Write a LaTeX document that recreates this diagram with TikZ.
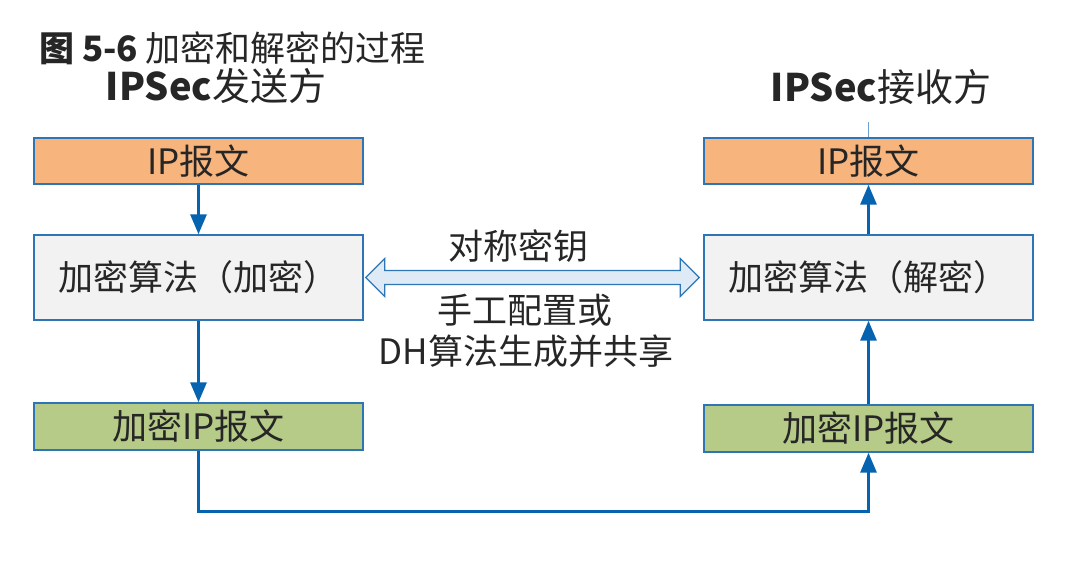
\documentclass[tikz,border=0pt]{standalone}
\usepackage{fontspec}
\setmainfont{Noto Sans CJK SC}
\usepackage{tikz}
\usetikzlibrary{arrows.meta,calc}
\definecolor{pktorange}{HTML}{F7B47C}
\definecolor{alggray}{HTML}{F2F2F2}
\definecolor{encgreen}{HTML}{B6CB87}
\definecolor{boxblue}{HTML}{2E75B6}
\definecolor{flowblue}{HTML}{0563B0}
\definecolor{keyfill}{HTML}{DEEBF7}
\definecolor{txt}{HTML}{262626}

\begin{document}
\begin{tikzpicture}[x=0.5pt, y=-0.5pt, text=txt,
  box/.style={draw=boxblue, line width=0.7pt, inner sep=0pt, minimum width=164.5pt, font=\fontsize{17.5}{19}\selectfont},
  ipbox/.style={box, fill=pktorange, minimum height=23pt},
  algbox/.style={box, fill=alggray, minimum height=42.5pt},
  encbox/.style={box, fill=encgreen, minimum height=23.5pt},
  flow/.style={flowblue, line width=1.5pt, -{Triangle[width=8pt,length=10pt]}},
  keyarrow/.style={draw=boxblue, fill=keyfill, line width=0.6pt, line join=miter},
  lbl/.style={font=\fontsize{17.5}{19}\selectfont}]

\useasboundingbox (0,0) rectangle (1067,573);

%title and headers
\node[anchor=west, font=\fontsize{17.5}{20}\selectfont] (title) at (32,48) {\textbf{图 5-6} 加密和解密的过程};
\node[font=\fontsize{19}{22}\selectfont] (sender) at (216,86) {\textbf{IPSec}发送方};
\node[font=\fontsize{19}{22}\selectfont] (receiver) at (881,87) {\textbf{IPSec}接收方};

%sender side
\node[ipbox] (sndip) at (198.5,161) {IP报文};
\node[algbox] (encalg) at (198.5,277.5) {加密算法（加密）};
\node[encbox] (sndenc) at (198.5,426.5) {加密IP报文};
\draw[flow] (sndip) -- (encalg);
\draw[flow] (encalg) -- (sndenc);

%receiver side
\node[ipbox] (rcvip) at (868.5,161) {IP报文};
\node[algbox] (decalg) at (868.5,277.5) {加密算法（解密）};
\node[encbox] (rcvenc) at (868.5,428.5) {加密IP报文};
\draw[flow] (rcvenc) -- (decalg);
\draw[flow] (decalg) -- (rcvip);
\draw[boxblue!70, line width=0.6pt] (rcvip.north) -- ++(0,-15);

%transfer
\draw[flow] (sndenc.south) -- ++(0,61) -| (rcvenc.south);

%shared key
\coordinate (kl) at ([xshift=1pt]encalg.east);
\coordinate (kr) at ([xshift=-2pt]decalg.west);
\draw[keyarrow] (kl) -- ($(kl)+(19,-19)$) -- ($(kl)+(19,-7)$) -- ($(kr)+(-19,-7)$)
  -- ($(kr)+(-19,-19)$) -- (kr) -- ($(kr)+(-19,19)$) -- ($(kr)+(-19,7)$)
  -- ($(kl)+(19,7)$) -- ($(kl)+(19,19)$) -- cycle;
\node[lbl] (keyname) at (518,246) {对称密钥};
\node[lbl] (keyhow) at (525,310) {手工配置或};
\node[lbl] (keydh) at (526,351) {DH算法生成并共享};

\end{tikzpicture}
\end{document}
